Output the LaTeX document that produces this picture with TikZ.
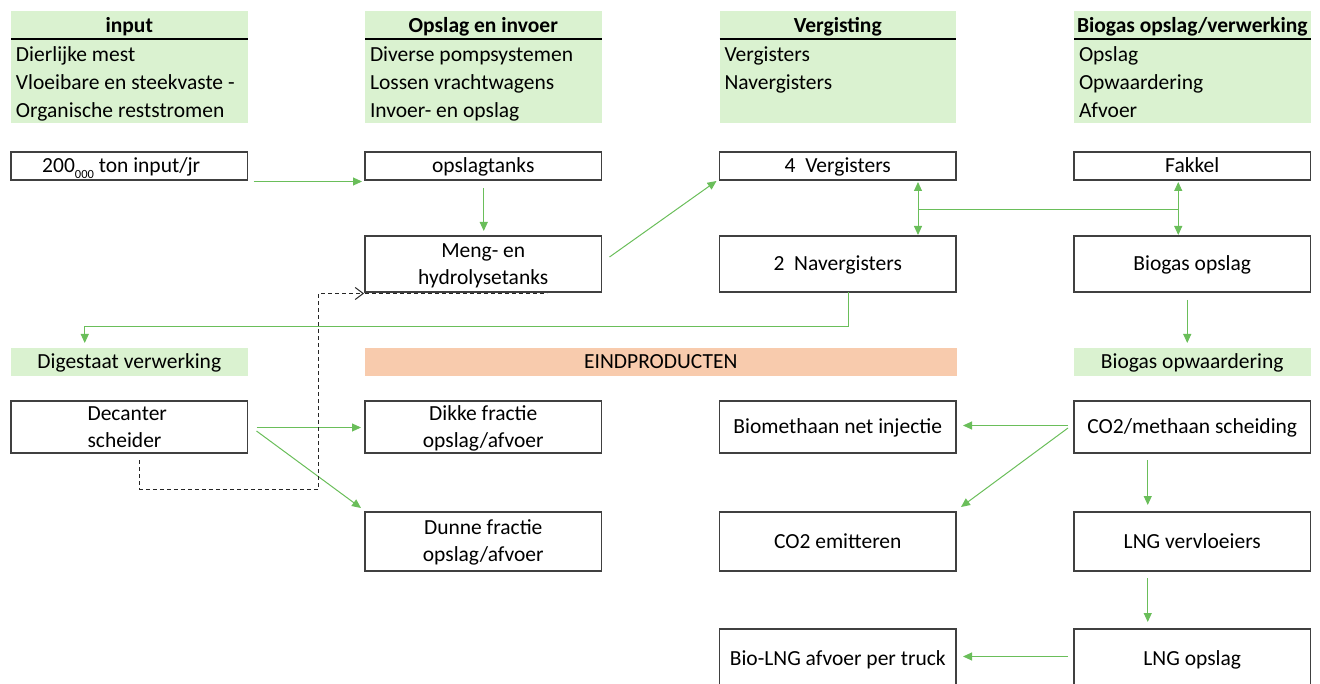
\documentclass[tikz,border=0pt]{standalone}
\usepackage{fontspec}
\setmainfont{Carlito}
\usetikzlibrary{arrows.meta,calc}
\definecolor{hdrgreen}{HTML}{DAF2D0}
\definecolor{salmon}{HTML}{F8CBAD}
\definecolor{flowgreen}{RGB}{106,190,90}
\definecolor{boxline}{RGB}{64,64,64}
\newcommand\dfont{\fontsize{21.5}{27}\selectfont}
\newcommand\twol[2]{\vbox{\baselineskip=27pt\hbox to 0pt{\hss#1\hss}\hbox to 0pt{\hss#2\hss}}}
\newcommand\twoleft[2]{\vbox{\baselineskip=27pt\hbox{#1}\hbox{#2}}}
\newcommand\smallsub[1]{\raisebox{-6pt}{\fontsize{12.5}{12.5}\selectfont#1}}
\tikzset{
 basetxt/.style={inner sep=0pt, outer sep=0pt, font=\dfont, text=black},
 onel/.style={text height=13.8pt, text depth=0pt},
 twoln/.style={text height=40.8pt, text depth=0pt},
 box/.style={basetxt, draw=boxline, line width=1.3pt, anchor=north west, minimum width=236.5pt, align=center},
 band/.style={basetxt, fill=hdrgreen, anchor=north west, minimum width=236.5pt, minimum height=28pt, onel},
 hdr/.style={basetxt, fill=hdrgreen, anchor=north west, minimum width=236.5pt, minimum height=112pt},
 htitle/.style={basetxt, onel, font=\dfont\bfseries},
 hitem/.style={basetxt, onel, anchor=west},
 hrule/.style={draw=black, line width=1.3pt},
 flow/.style={draw=flowgreen, line width=1pt, -{Triangle[length=9pt,width=8pt]}},
 flowboth/.style={draw=flowgreen, line width=1pt, {Triangle[length=9pt,width=8pt]}-{Triangle[length=9pt,width=8pt]}},
 flowline/.style={draw=flowgreen, line width=1pt},
 ret/.style={draw=black!85, line width=1pt, dash pattern=on 4pt off 3pt},
}
\begin{document}
\begin{tikzpicture}[x=1pt,y=-1pt]
\useasboundingbox (0,0) rectangle (1320,684);

% headers
\node[hdr] (h1) at (11,11) {};
\node[htitle] (h1t) at ($(h1.north)+(0,15)$) {input};
\draw[hrule] ($(h1.north west)+(0,28)$) -- ($(h1.north east)+(0,28)$);
\node[hitem] (h1a) at ($(h1.north west)+(5,43.5)$) {Dierlijke mest};
\node[hitem] (h1b) at ($(h1.north west)+(5,71.5)$) {Vloeibare en steekvaste -};
\node[hitem] (h1c) at ($(h1.north west)+(5,99.5)$) {Organische reststromen};

\node[hdr] (h2) at (365,11) {};
\node[htitle] (h2t) at ($(h2.north)+(0,15)$) {Opslag en invoer};
\draw[hrule] ($(h2.north west)+(0,28)$) -- ($(h2.north east)+(0,28)$);
\node[hitem] (h2a) at ($(h2.north west)+(5,43.5)$) {Diverse pompsystemen};
\node[hitem] (h2b) at ($(h2.north west)+(5,71.5)$) {Lossen vrachtwagens};
\node[hitem] (h2c) at ($(h2.north west)+(5,99.5)$) {Invoer- en opslag};

\node[hdr] (h3) at (719.5,11) {};
\node[htitle] (h3t) at ($(h3.north)+(0,15)$) {Vergisting};
\draw[hrule] ($(h3.north west)+(0,28)$) -- ($(h3.north east)+(0,28)$);
\node[hitem] (h3a) at ($(h3.north west)+(5,43.5)$) {Vergisters};
\node[hitem] (h3b) at ($(h3.north west)+(5,71.5)$) {Navergisters};

\node[hdr] (h4) at (1074,11) {};
\node[htitle] (h4t) at ($(h4.north)+(0,15)$) {Biogas opslag/verwerking};
\draw[hrule] ($(h4.north west)+(0,28)$) -- ($(h4.north east)+(0,28)$);
\node[hitem] (h4a) at ($(h4.north west)+(5,43.5)$) {Opslag};
\node[hitem] (h4b) at ($(h4.north west)+(5,71.5)$) {Opwaardering};
\node[hitem] (h4c) at ($(h4.north west)+(5,99.5)$) {Afvoer};

% bands
\node[band] (dig) at (11,348) {Digestaat verwerking};
\node[band, fill=salmon, minimum width=591.5pt] (eind) at (365,348) {EINDPRODUCTEN};
\node[band] (bopw) at (1074,348) {Biogas opwaardering};

% boxes
\node[box, onel, minimum height=28pt] (inp) at (11,152) {200\smallsub{000} ton input/jr\hspace{16pt}};
\node[box, onel, minimum height=28pt] (ops) at (365,152) {opslagtanks};
\node[box, onel, minimum height=28pt] (verg) at (719.5,152) {4~~Vergisters};
\node[box, onel, minimum height=28pt] (fak) at (1074,152) {Fakkel};
\node[box, twoln, minimum height=56pt] (meng) at (365,236) {\twol{Meng- en}{hydrolysetanks}};
\node[box, onel, minimum height=56pt] (nav) at (719.5,236) {2~~Navergisters};
\node[box, onel, minimum height=56pt] (bio) at (1074,236) {Biogas opslag};
\node[box, twoln, minimum height=52pt] (dec) at (11,401) {\twoleft{Decanter}{scheider}\hspace{4pt}};
\node[box, twoln, minimum height=52pt] (dik) at (365,401) {\twol{Dikke fractie}{opslag/afvoer}};
\node[box, onel, minimum height=52pt] (bmi) at (719.5,401) {Biomethaan net injectie};
\node[box, onel, minimum height=52pt] (co2m) at (1074,401) {CO2/methaan scheiding};
\node[box, twoln, minimum height=59pt] (dun) at (365,512) {\twol{Dunne fractie}{opslag/afvoer}};
\node[box, onel, minimum height=59pt] (co2e) at (719.5,512) {CO2 emitteren};
\node[box, onel, minimum height=59pt] (lng) at (1074,512) {LNG vervloeiers};
\node[box, onel, minimum height=59pt] (blng) at (719.5,629) {Bio-LNG afvoer per truck};
\node[box, onel, minimum height=59pt] (lngo) at (1074,629) {LNG opslag};

% connectors
\draw[flow] ($(inp.south east)+(6,1.5)$) -- ($(ops.south west)+(-3,1.5)$);
\draw[flow] ($(ops.south)+(0.5,8)$) -- ($(meng.north)+(0.5,-5)$);
\draw[flow] ($(meng.east)+(8,-7)$) -- ($(verg.south west)+(-3,1)$);
\coordinate (jl) at ($(verg.south east)+(-38,29.5)$);
\coordinate (jr) at ($(fak.south)+(-14,29.5)$);
\draw[flowboth] ($(verg.south east)+(-38,2)$) -- ($(nav.north east)+(-38,-1)$);
\draw[flowboth] ($(fak.south)+(-14,2)$) -- ($(bio.north)+(-14,-1)$);
\draw[flowline] (jl) -- (jr);
\draw[flow] ($(nav.south)+(10.5,0)$) -- ++(0,34.5) -| ($(dig.north)+(-44.5,-5)$);
\draw[flow] ($(bio.south)+(-5,8)$) -- ($(bopw.north)+(-5,-5)$);
\draw[flow] ($(dec.east)+(9,0.5)$) -- ($(dik.west)+(-4,0.5)$);
\draw[flow] ($(dec.east)+(9,4)$) -- ($(dun.north west)+(-4,-4)$);
\draw[flow] ($(co2m.west)+(-6,-1.5)$) -- ($(bmi.east)+(7,-1.5)$);
\draw[flow] ($(co2m.west)+(-6,1)$) -- ($(co2e.north east)+(5,-5)$);
\draw[flow] ($(co2m.south)+(-44.5,7)$) -- ($(lng.north)+(-44.5,-7)$);
\draw[flow] ($(lng.south)+(-44.5,7)$) -- ($(lngo.north)+(-44.5,-7)$);
\draw[flow] ($(lngo.north west)+(-6,27.5)$) -- ($(blng.north east)+(7,27.5)$);

% dashed return
\draw[ret, -{Straight Barb[length=8pt,width=12pt]}] ($(dec.south)+(10.5,7)$) -- ++(0,29) -| ($(meng.south west)+(-46.5,1.5)$) -- ($(meng.south west)+(-1,1.5)$);
\draw[ret] ($(meng.south west)+(0,1.5)$) -- ($(meng.south west)+(182,1.5)$);
\end{tikzpicture}
\end{document}
